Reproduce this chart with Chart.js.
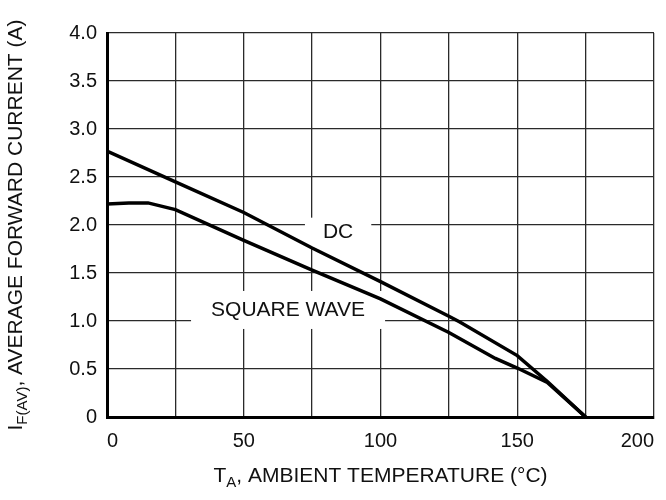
<!DOCTYPE html>
<html>
<head>
<meta charset="utf-8">
<script src="https://cdn.jsdelivr.net/npm/chart.js@4"></script>
<style>
  html, body { margin: 0; padding: 0; background: #fff; }
  #wrap { width: 666px; height: 500px; }
</style>
</head>
<body>
<div id="wrap"><canvas id="derating"></canvas></div>
<script>
// values
const dcTemp = [0, 25, 50, 75, 100, 125, 129, 150, 161, 175];
const dcCurrent = [2.77, 2.45, 2.13, 1.76, 1.41, 1.05, 0.99, 0.64, 0.37, 0];

const swTemp = [0, 8, 15, 25, 50, 75, 100, 125, 142, 150, 161, 175];
const swCurrent = [2.22, 2.23, 2.23, 2.16, 1.84, 1.53, 1.23, 0.88, 0.61, 0.51, 0.36, 0];

const xTicks = [0, 50, 100, 150, 200];
const yTicks = ["0", "0.5", "1.0", "1.5", "2.0", "2.5", "3.0", "3.5", "4.0"];

// curve labels: text, temperature, current
const curveLabels = [
  { text: "DC", x: 84.5, y: 1.92 },
  { text: "SQUARE WAVE", x: 66.2, y: 1.115 }
];

const FONT = "'Liberation Sans', Arial, sans-serif";

function toPoints(xs, ys){
  return xs.map((x, i) => ({ x: x, y: ys[i] }));
}

// draws a label on a white box so it knocks out the grid behind it
const curveLabelPlugin = {
  id: "curveLabels",
  beforeDatasetsDraw(chart){
    const ctx = chart.ctx;
    const xs = chart.scales.x, ys = chart.scales.y;
    ctx.save();
    ctx.font = "21px " + FONT;
    ctx.textAlign = "center";
    ctx.textBaseline = "middle";
    curveLabels.forEach(l => {
      const px = xs.getPixelForValue(l.x);
      const py = ys.getPixelForValue(l.y);
      const w = ctx.measureText(l.text).width;
      const padX = l.text.length > 3 ? 20 : 18;
      const padY = l.text.length > 3 ? 19 : 15;
      ctx.fillStyle = "#fff";
      ctx.fillRect(px - w / 2 - padX, py - padY, w + padX * 2, padY * 2);
      ctx.fillStyle = "#111";
      ctx.fillText(l.text, px, py);
    });
    ctx.restore();
  }
};

// axis titles with subscripts
function drawRich(ctx, parts, x, y){
  let total = 0;
  parts.forEach(p => {
    ctx.font = (p.sub ? 15 : 21) + "px " + FONT;
    total += ctx.measureText(p.t).width;
  });
  let cx = x - total / 2;
  parts.forEach(p => {
    ctx.font = (p.sub ? 15 : 21) + "px " + FONT;
    ctx.fillText(p.t, cx, y + (p.sub ? 5 : 0));
    cx += ctx.measureText(p.t).width;
  });
}

const axisTitlePlugin = {
  id: "axisTitles",
  afterDraw(chart){
    const ctx = chart.ctx;
    const a = chart.chartArea;
    ctx.save();
    ctx.fillStyle = "#111";
    ctx.textAlign = "left";
    ctx.textBaseline = "alphabetic";
    drawRich(ctx, [
      { t: "T" }, { t: "A", sub: true }, { t: ", AMBIENT TEMPERATURE (\u00B0C)" }
    ], (a.left + a.right) / 2, 482);

    ctx.translate(22, (a.top + a.bottom) / 2);
    ctx.rotate(-Math.PI / 2);
    drawRich(ctx, [
      { t: "I" }, { t: "F(AV)", sub: true }, { t: ", AVERAGE FORWARD CURRENT (A)" }
    ], 0, 0);
    ctx.restore();
  }
};

const lineStyle = {
  borderColor: "#000",
  borderWidth: 3.5,
  pointRadius: 0,
  tension: 0,
  fill: false
};

new Chart(document.getElementById("derating"), {
  type: "line",
  data: {
    datasets: [
      Object.assign({ label: "DC", data: toPoints(dcTemp, dcCurrent) }, lineStyle),
      Object.assign({ label: "SQUARE WAVE", data: toPoints(swTemp, swCurrent) }, lineStyle)
    ]
  },
  options: {
    responsive: true,
    maintainAspectRatio: false,
    animation: false,
    layout: { padding: { top: 33, right: 12, left: 0, bottom: 0 } },
    plugins: {
      legend: { display: false },
      tooltip: { enabled: false }
    },
    scales: {
      x: {
        type: "linear",
        min: 0,
        max: 200,
        afterFit: s => { s.height = 83; },
        ticks: {
          stepSize: 25,
          padding: 12,
          align: "inner",
          maxRotation: 0,
          autoSkip: false,
          color: "#111",
          font: { family: FONT, size: 20 },
          callback: v => xTicks.includes(v) ? String(v) : ""
        },
        grid: { color: "#2a2a2a", lineWidth: 1.3, drawTicks: false },
        border: { color: "#000", width: 3 }
      },
      y: {
        min: 0,
        max: 4,
        afterFit: s => { s.width = 107; },
        ticks: {
          stepSize: 0.5,
          padding: 10,
          color: "#111",
          font: { family: FONT, size: 20 },
          callback: v => yTicks[Math.round(v * 2)]
        },
        grid: { color: "#2a2a2a", lineWidth: 1.3, drawTicks: false },
        border: { color: "#000", width: 3 }
      }
    }
  },
  plugins: [curveLabelPlugin, axisTitlePlugin]
});
</script>
</body>
</html>
